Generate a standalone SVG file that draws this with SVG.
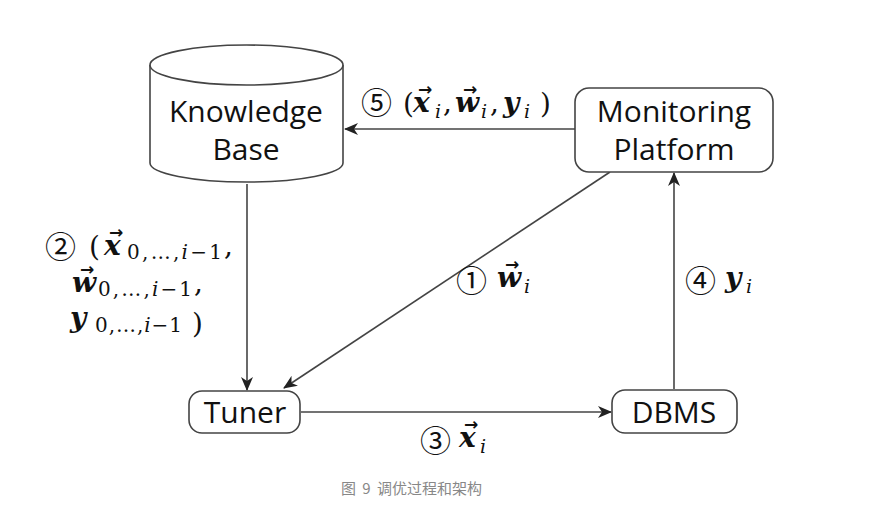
<svg xmlns="http://www.w3.org/2000/svg" width="871" height="521" viewBox="0 0 871 521">
<defs>
<marker id="ah" markerUnits="userSpaceOnUse" markerWidth="14" markerHeight="12" viewBox="0 0 14 12" refX="13" refY="6" orient="auto">
<path d="M0,0 L14,6 L0,12 L4,6 Z" fill="#222"/>
</marker>
<style>
.n{font-family:"Open Sans","Noto Sans",sans-serif;font-size:30px;fill:#111;text-anchor:middle}
.shape{fill:#fff;stroke:#444;stroke-width:1.6}
.c{fill:none;stroke:#444;stroke-width:1.6;marker-end:url(#ah)}
.m{font-family:"DejaVu Serif",serif;font-style:italic;font-weight:bold;font-size:28px;fill:#111}
.u{font-family:"DejaVu Serif",serif;font-size:28px;fill:#111}
.s{font-family:"DejaVu Serif",serif;font-style:italic;font-size:19px;fill:#111}
.sub{font-family:"DejaVu Serif",serif;font-size:20px;fill:#111}
.ar{font-family:"DejaVu Sans",sans-serif;font-weight:bold;font-size:17px;fill:#111}
.ci{font-family:"Noto Sans CJK SC","DejaVu Sans",sans-serif;font-size:31px;fill:#111}
.cap{font-family:"Noto Sans CJK SC","Noto Sans",sans-serif;font-size:15px;fill:#888;word-spacing:3px}
</style>
</defs>
<rect width="871" height="521" fill="#fff"/>

<g id="connectors">
<line class="c" x1="575" y1="129" x2="345" y2="129"/>
<line class="c" x1="247" y1="184" x2="247" y2="390"/>
<line class="c" x1="610" y1="172" x2="284" y2="388"/>
<line class="c" x1="674" y1="389" x2="674" y2="173"/>
<line class="c" x1="301" y1="412" x2="611" y2="412"/>
</g>

<g id="knowledge-base">
<path class="shape" d="M150,65 L150,163 A96.5,19 0 0 0 343,163 L343,65"/>
<ellipse class="shape" cx="246.5" cy="65" rx="96.5" ry="20"/>
<text class="n" x="246" y="122">Knowledge</text>
<text class="n" x="246" y="160">Base</text>
</g>

<g id="monitoring-platform">
<rect class="shape" x="575" y="88" width="198" height="84" rx="14"/>
<text class="n" x="674" y="122">Monitoring</text>
<text class="n" x="674" y="160">Platform</text>
</g>

<g id="tuner">
<rect class="shape" x="189" y="391" width="111" height="42" rx="13"/>
<text class="n" x="245" y="423">Tuner</text>
</g>

<g id="dbms">
<rect class="shape" x="612" y="390" width="125" height="43" rx="13"/>
<text class="n" x="674" y="423">DBMS</text>
</g>

<g id="label-5">
<text class="ci" x="361" y="114">⑤</text>
<text class="u" x="403" y="113">(</text>
<text class="m" x="413" y="112">x</text>
<text class="ar" x="418" y="95">→</text>
<text class="s" x="435" y="118">i</text>
<text class="u" x="443" y="112">,</text>
<text class="m" x="455" y="112">w</text>
<text class="ar" x="463" y="95">→</text>
<text class="s" x="481" y="118">i</text>
<text class="u" x="490" y="112">,</text>
<text class="m" x="503" y="112">y</text>
<text class="s" x="524" y="118">i</text>
<text class="u" x="540" y="113">)</text>
</g>

<g id="label-2">
<text class="ci" x="45" y="258">②</text>
<text class="u" x="89" y="256">(</text>
<text class="m" x="104" y="255">x</text>
<text class="ar" x="109" y="238">→</text>
<text class="sub" x="127" y="259" textLength="95" lengthAdjust="spacing">0,…,<tspan font-style="italic">i</tspan>−1</text>
<text class="u" x="224" y="255">,</text>
<text class="m" x="72" y="292">w</text>
<text class="ar" x="80" y="275">→</text>
<text class="sub" x="98" y="296" textLength="94" lengthAdjust="spacing">0,…,<tspan font-style="italic">i</tspan>−1</text>
<text class="u" x="194" y="292">,</text>
<text class="m" x="70" y="327">y</text>
<text class="sub" x="95" y="332" textLength="87" lengthAdjust="spacing">0,…,<tspan font-style="italic">i</tspan>−1</text>
<text class="u" x="192" y="333">)</text>
</g>

<g id="label-1">
<text class="ci" x="456" y="292">①</text>
<text class="m" x="497" y="287">w</text>
<text class="ar" x="505" y="270">→</text>
<text class="s" x="524" y="293">i</text>
</g>

<g id="label-4">
<text class="ci" x="685" y="292">④</text>
<text class="m" x="725" y="287">y</text>
<text class="s" x="746" y="293">i</text>
</g>

<g id="label-3">
<text class="ci" x="420" y="452">③</text>
<text class="m" x="459" y="447">x</text>
<text class="ar" x="464" y="430">→</text>
<text class="s" x="480" y="453">i</text>
</g>

<text class="cap" x="341" y="494">图 9 调优过程和架构</text>
</svg>
